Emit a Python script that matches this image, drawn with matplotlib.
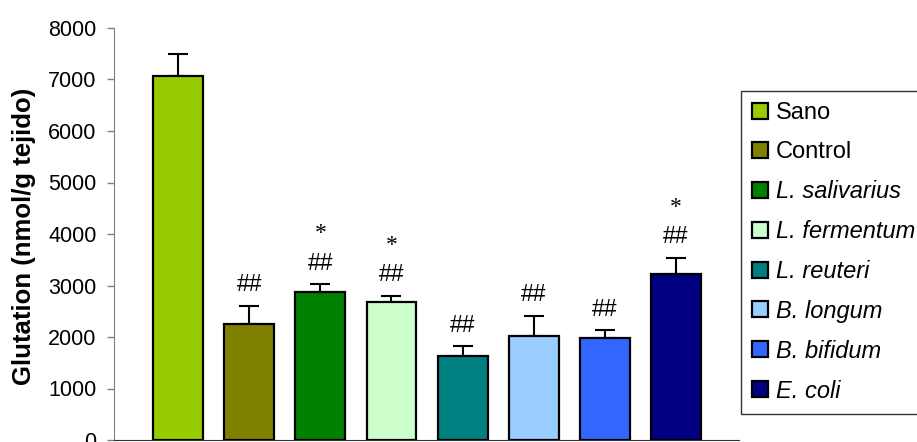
import matplotlib
matplotlib.use("Agg")
import matplotlib.pyplot as plt
import numpy as np

plt.rcParams["font.family"] = ["Liberation Sans", "DejaVu Sans"]

# Glutathione levels per group (mean and upper SEM)
groups = ["Sano", "Control", "L. salivarius", "L. fermentum", "L. reuteri",
          "B. longum", "B. bifidum", "E. coli"]
means = [7070, 2260, 2875, 2675, 1630, 2020, 1975, 3225]
sems = [430, 350, 155, 130, 195, 395, 160, 315]
marks = ["", "##", "##", "##", "##", "##", "##", "##"]
stars = ["", "", "*", "*", "", "", "", "*"]
italic = [False, False, True, True, True, True, True, True]

colors = ["#99CC00", "#808000", "#008000", "#CCFFCC", "#008080",
          "#99CCFF", "#3366FF", "#000080"]

fig = plt.figure(figsize=(9.17, 4.42), dpi=100)
ax = fig.add_axes([114 / 917, 2 / 442, (739 - 114) / 917, (440 - 28) / 442])

x = np.arange(len(groups))
bars = ax.bar(x, means, width=0.70, color=colors, edgecolor="black",
              linewidth=1.6, zorder=3, label=groups)
ax.errorbar(x, means, yerr=[np.zeros(len(sems)), sems], fmt="none",
            ecolor="black", elinewidth=1.5, capsize=7.2, capthick=1.5, zorder=2)

for xi, m, s, mk, st in zip(x, means, sems, marks, stars):
    top = m + s
    if mk:
        ax.annotate(mk, (xi, top), xytext=(0, 15), textcoords="offset points",
                    ha="center", va="center", fontsize=16.5)
    if st:
        ax.annotate(st, (xi, top), xytext=(0, 36), textcoords="offset points",
                    ha="center", va="center", fontsize=17,
                    family=["Liberation Serif", "DejaVu Serif"])

ax.set_xlim(-0.9, 7.885)
ax.set_ylim(0, 8000)
ax.set_yticks(np.arange(0, 8001, 1000))
ax.set_xticks([])
ax.tick_params(axis="y", direction="out", length=5, width=1, color="#808080",
               labelsize=15.5, pad=7.5)
for side in ("top", "right"):
    ax.spines[side].set_visible(False)
ax.spines["left"].set_color("#808080")
ax.spines["bottom"].set_color("#333333")
ax.set_ylabel("Glutation (nmol/g tejido)", fontsize=18.5, fontweight="bold")
ax.yaxis.set_label_coords((36 - 114) / 625, (442 - 236 - 2) / 412)

leg = fig.legend(handles=list(bars), labels=groups, loc="upper left",
                 bbox_to_anchor=(741 / 917, 1 - 91 / 442),
                 bbox_transform=fig.transFigure, frameon=True, fancybox=False,
                 edgecolor="black", fontsize=17, handlelength=0.66,
                 handleheight=0.66, handletextpad=0.35, labelspacing=0.715,
                 borderaxespad=0, borderpad=0.48)
leg.get_frame().set_linewidth(1.0)
for t, it in zip(leg.get_texts(), italic):
    if it:
        t.set_fontstyle("italic")

fig.savefig("out.png", dpi=100)
